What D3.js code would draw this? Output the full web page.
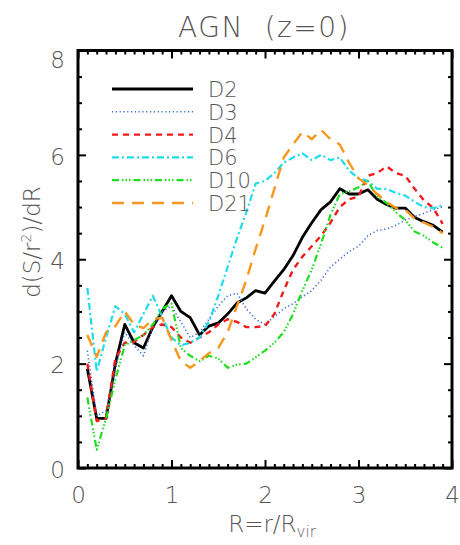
<!DOCTYPE html>
<html><head><meta charset="utf-8">
<script src="https://cdn.jsdelivr.net/npm/d3@7"></script>
<style>
html,body{margin:0;padding:0;background:#fff;}
svg text{font-family:"DejaVu Sans",sans-serif;font-weight:200;fill:#555;}
</style></head>
<body><svg id="c" width="460" height="545"></svg>
<script>
const R = [0.1,0.2,0.3,0.4,0.5,0.6,0.7,0.8,0.9,1.0,1.1,1.2,1.3,1.4,1.5,1.6,1.7,1.8,1.9,2.0,2.1,2.2,2.3,2.4,2.5,2.6,2.7,2.8,2.9,3.0,3.1,3.2,3.3,3.4,3.5,3.6,3.7,3.8,3.9];
const D2  = [1.9,0.95,0.95,2.0,2.75,2.4,2.3,2.7,3.0,3.3,3.0,2.88,2.55,2.72,2.78,2.95,3.16,3.26,3.4,3.35,3.58,3.8,4.07,4.42,4.7,4.95,5.1,5.35,5.25,5.25,5.33,5.15,5.05,4.98,4.98,4.8,4.72,4.65,4.52];
const D3  = [2.25,1.0,1.1,1.9,2.6,2.35,2.15,2.7,3.0,3.1,2.8,2.5,2.6,2.85,3.1,3.3,3.35,3.05,2.85,2.75,2.9,3.05,3.15,3.28,3.4,3.6,3.85,4.0,4.15,4.25,4.45,4.55,4.58,4.65,4.75,4.82,4.88,4.95,5.0];
const D4  = [2.0,0.9,0.95,2.1,2.4,2.42,2.55,2.7,2.75,2.7,2.5,2.4,2.5,2.6,2.75,2.85,2.8,2.7,2.7,2.72,2.95,3.4,3.8,4.05,4.25,4.45,4.7,5.0,5.15,5.2,5.6,5.65,5.78,5.65,5.6,5.35,5.13,4.98,4.68];
const D6  = [3.45,1.85,2.5,3.1,2.95,2.6,2.95,3.3,2.9,2.5,2.35,2.4,2.5,2.8,3.3,3.85,4.4,4.9,5.45,5.5,5.65,5.85,5.95,6.03,5.9,6.0,5.9,5.95,5.7,5.55,5.5,5.35,5.35,5.27,5.22,5.1,5.0,4.98,5.03];
const D10 = [1.35,0.35,0.95,1.7,2.35,2.45,2.55,2.75,3.05,3.15,2.3,2.15,2.05,2.15,2.1,1.92,1.98,2.0,2.12,2.25,2.4,2.6,2.95,3.4,3.8,4.3,4.85,5.25,5.3,5.38,5.5,5.2,5.08,4.9,4.75,4.53,4.45,4.32,4.22];
const D21 = [2.55,2.13,2.6,2.72,3.0,2.75,2.68,2.85,2.88,2.45,2.05,1.92,2.05,2.2,2.3,2.6,3.1,3.6,4.2,4.75,5.35,5.95,6.2,6.44,6.3,6.48,6.3,6.2,5.85,5.55,5.42,5.25,5.1,4.98,4.95,4.78,4.7,4.62,4.5];

const seriesNames = ["D2","D3","D4","D6","D10","D21"];
const seriesValues = [D2,D3,D4,D6,D10,D21];
const xTicks = [0,1,2,3,4];
const yTicks = [0,2,4,6,8];
const title = "AGN  (z=0)";

const styles = {
  D2:  {color:"#000000", width:2.8, dash:null},
  D3:  {color:"#3a6bd6", width:1.6, dash:"1.2,2.6"},
  D4:  {color:"#ee1c1c", width:2.4, dash:"6,5"},
  D6:  {color:"#1fdcea", width:2.2, dash:"7,3,2,3"},
  D10: {color:"#1fdd1f", width:2.2, dash:"7,3,1.5,2,1.5,2,1.5,3"},
  D21: {color:"#f7971e", width:2.4, dash:"12,8"}
};

const svg = d3.select("#c");
const L=78, Rt=452, T=50.5, B=468;
const x = d3.scaleLinear().domain([0,4]).range([L,Rt]);
const y = d3.scaleLinear().domain([0,8]).range([B,T]);

const plot = svg.append("g");
const line = d3.line().x((d,i)=>x(R[i])).y(d=>y(d));
seriesNames.forEach((n,k)=>{
  const s=styles[n];
  plot.append("path").datum(seriesValues[k]).attr("d",line)
    .attr("fill","none").attr("stroke",s.color).attr("stroke-width",s.width)
    .attr("stroke-dasharray",s.dash).attr("stroke-linejoin","round");
});

// axes
const xMinor = d3.range(0,41).map(i=>i/10).filter(v=>!xTicks.includes(v));
const yMinor = d3.range(0,17).map(i=>i/2).filter(v=>!yTicks.includes(v));
function styleAxis(g){g.select(".domain").remove();g.selectAll(".tick line").attr("stroke","#000").attr("stroke-width",2);}
const fs = 23;
svg.append("g").attr("transform",`translate(0,${B})`)
  .call(d3.axisBottom(x).tickValues(xTicks).tickSize(-8).tickPadding(19).tickFormat(d3.format("d")))
  .call(styleAxis).call(g=>g.selectAll("text").attr("font-size",fs).attr("fill","#555"));
svg.append("g").attr("transform",`translate(0,${B})`)
  .call(d3.axisBottom(x).tickValues(xMinor).tickSize(-4).tickFormat("")).call(styleAxis);
svg.append("g").attr("transform",`translate(0,${T})`)
  .call(d3.axisTop(x).tickValues(xTicks).tickSize(-8).tickFormat("")).call(styleAxis);
svg.append("g").attr("transform",`translate(0,${T})`)
  .call(d3.axisTop(x).tickValues(xMinor).tickSize(-4).tickFormat("")).call(styleAxis);
const yl = svg.append("g").attr("transform",`translate(${L},0)`)
  .call(d3.axisLeft(y).tickValues(yTicks).tickSize(-8).tickPadding(13).tickFormat(d3.format("d")))
  .call(styleAxis).call(g=>g.selectAll("text").attr("font-size",fs).attr("fill","#555").attr("dy","0.4em"));
yl.selectAll(".tick").filter(d=>d===8).select("text").attr("dy","0.75em");
svg.append("g").attr("transform",`translate(${L},0)`)
  .call(d3.axisLeft(y).tickValues(yMinor).tickSize(-4).tickFormat("")).call(styleAxis);
svg.append("g").attr("transform",`translate(${Rt},0)`)
  .call(d3.axisRight(y).tickValues(yTicks).tickSize(-8).tickFormat("")).call(styleAxis);
svg.append("g").attr("transform",`translate(${Rt},0)`)
  .call(d3.axisRight(y).tickValues(yMinor).tickSize(-4).tickFormat("")).call(styleAxis);

svg.append("rect").attr("x",L).attr("y",T).attr("width",Rt-L).attr("height",B-T)
  .attr("fill","none").attr("stroke","#000").attr("stroke-width",3);

// legend
const lg = svg.append("g");
seriesNames.forEach((n,k)=>{
  const s=styles[n]; const yy = 89 + k*22.8;
  lg.append("line").attr("x1",112).attr("x2",193).attr("y1",yy).attr("y2",yy)
    .attr("stroke",s.color).attr("stroke-width",s.width).attr("stroke-dasharray",s.dash);
  lg.append("text").attr("x",208).attr("y",yy+8).attr("font-size",21).text(n);
});

// title
svg.append("text").attr("x",264).attr("y",37).attr("text-anchor","middle").attr("font-size",28)
  .attr("letter-spacing",1.5).attr("xml:space","preserve").style("white-space","pre").text(title);

// x title
const xt = svg.append("text").attr("x",272).attr("y",532).attr("text-anchor","middle").attr("font-size",fs);
xt.append("tspan").text("R=r/R");
xt.append("tspan").attr("font-size",15).attr("dy",5).text("vir");

// y title
const yt = svg.append("text").attr("transform","translate(40,242) rotate(-90)").attr("text-anchor","middle").attr("font-size",fs);
yt.append("tspan").text("d(S/r");
yt.append("tspan").attr("font-size",14).attr("dy",-9).text("2");
yt.append("tspan").attr("dy",9).text(")/dR");
</script></body></html>
